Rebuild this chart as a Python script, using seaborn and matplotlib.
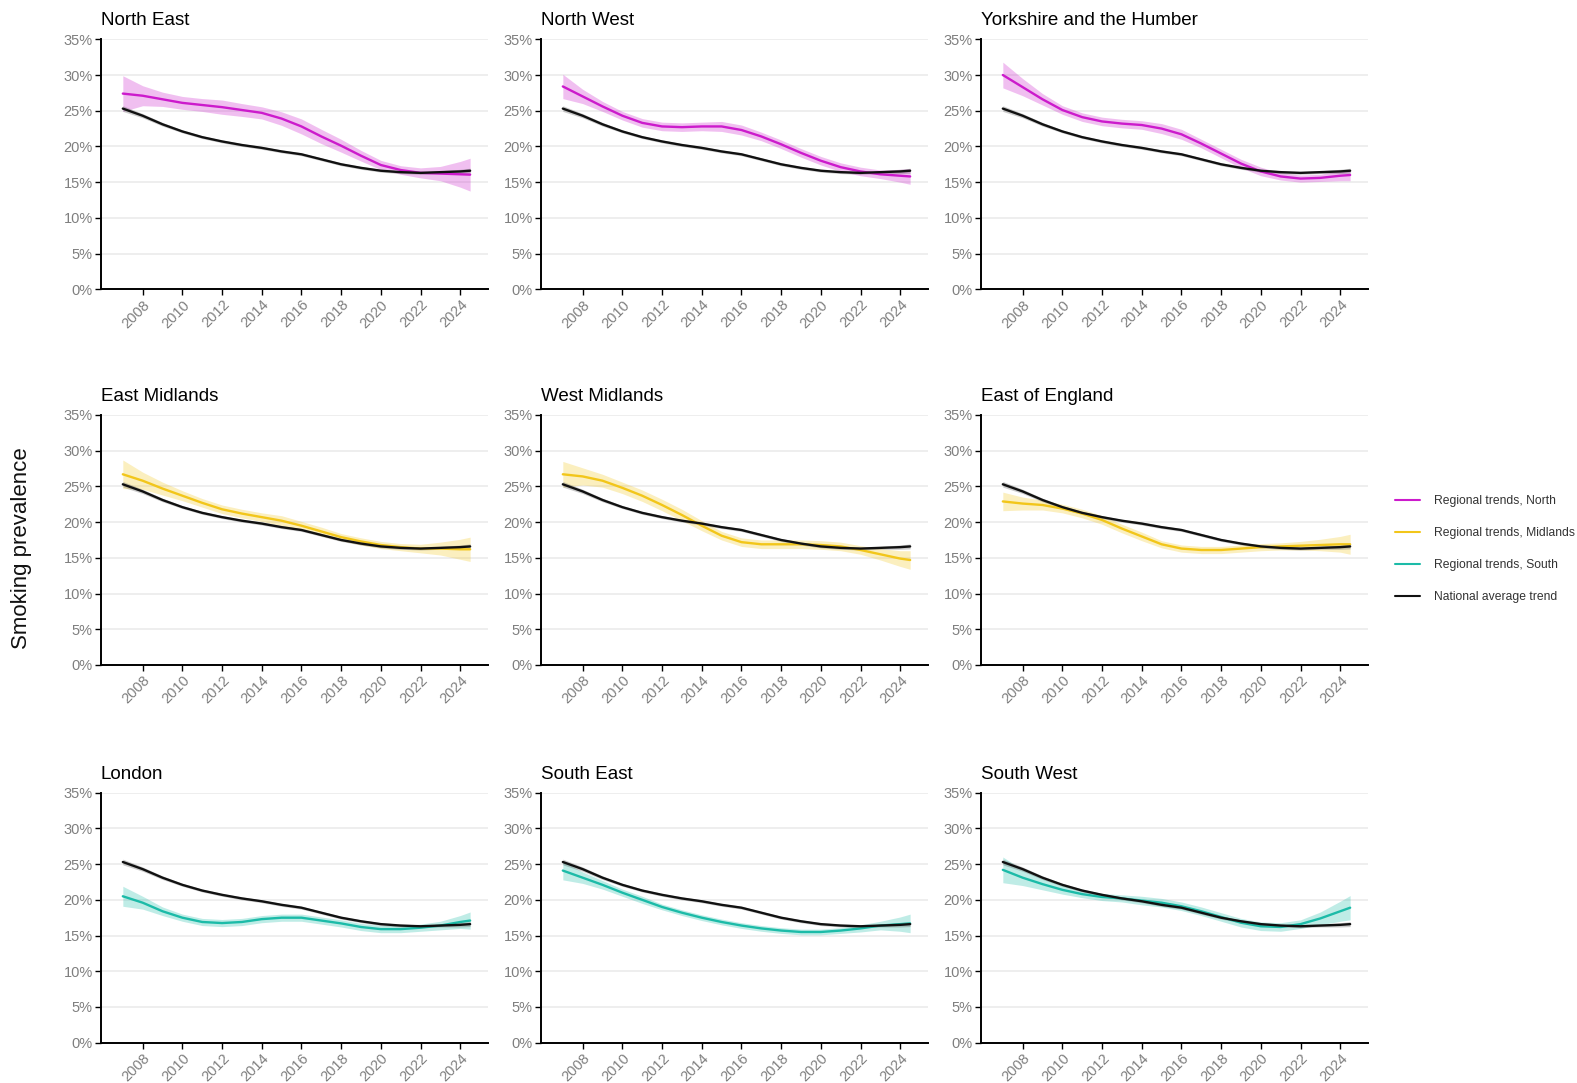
import numpy as np
import pandas as pd
import matplotlib
matplotlib.use('Agg')
import matplotlib.pyplot as plt
from matplotlib.lines import Line2D
from matplotlib.ticker import FuncFormatter
import seaborn as sns

# data (percent smoking prevalence, smoothed trends)
years = [2007, 2008, 2009, 2010, 2011, 2012, 2013, 2014, 2015, 2016,
         2017, 2018, 2019, 2020, 2021, 2022, 2023, 2024, 2024.5]

national = [25.3, 24.3, 23.1, 22.1, 21.3, 20.7, 20.2, 19.8, 19.3, 18.9,
            18.2, 17.5, 17.0, 16.6, 16.4, 16.3, 16.4, 16.5, 16.6]
national_band = [0.4, 0.3, 0.25, 0.2, 0.2, 0.2, 0.2, 0.2, 0.2, 0.2,
                 0.2, 0.2, 0.2, 0.2, 0.2, 0.2, 0.2, 0.3, 0.35]

regions = ['North East', 'North West', 'Yorkshire and the Humber',
           'East Midlands', 'West Midlands', 'East of England',
           'London', 'South East', 'South West']
region_group = ['North', 'North', 'North',
                'Midlands', 'Midlands', 'Midlands',
                'South', 'South', 'South']

north_east = [27.4, 27.1, 26.6, 26.1, 25.8, 25.5, 25.1, 24.7, 23.9, 22.8,
              21.4, 20.1, 18.7, 17.4, 16.7, 16.3, 16.2, 16.1, 16.05]
north_east_band = [2.5, 1.4, 1.0, 0.9, 0.9, 1.0, 0.9, 0.85, 0.95, 1.05,
                   1.0, 0.9, 0.75, 0.65, 0.6, 0.7, 1.0, 1.8, 2.3]

north_west = [28.4, 27.0, 25.6, 24.3, 23.3, 22.8, 22.7, 22.8, 22.8, 22.3,
              21.4, 20.3, 19.1, 18.0, 17.1, 16.5, 16.1, 15.9, 15.8]
north_west_band = [1.7, 1.0, 0.7, 0.6, 0.6, 0.6, 0.6, 0.6, 0.7, 0.7,
                   0.6, 0.6, 0.6, 0.6, 0.6, 0.6, 0.6, 0.9, 1.1]

yorkshire = [30.0, 28.3, 26.6, 25.1, 24.1, 23.5, 23.2, 23.0, 22.5, 21.7,
             20.4, 19.0, 17.6, 16.5, 15.8, 15.5, 15.6, 15.9, 16.0]
yorkshire_band = [1.8, 1.2, 0.8, 0.6, 0.6, 0.6, 0.6, 0.6, 0.7, 0.7,
                  0.6, 0.6, 0.6, 0.6, 0.5, 0.5, 0.5, 0.7, 0.8]

east_midlands = [26.7, 25.8, 24.7, 23.7, 22.7, 21.8, 21.2, 20.7, 20.2, 19.5,
                 18.7, 17.9, 17.3, 16.8, 16.5, 16.3, 16.3, 16.2, 16.2]
east_midlands_band = [2.0, 1.2, 0.9, 0.7, 0.6, 0.6, 0.6, 0.6, 0.7, 0.6,
                      0.6, 0.5, 0.5, 0.5, 0.5, 0.6, 0.9, 1.4, 1.7]

west_midlands = [26.7, 26.4, 25.8, 24.8, 23.7, 22.4, 21.0, 19.5, 18.1, 17.2,
                 16.9, 16.9, 16.9, 16.8, 16.6, 16.1, 15.5, 14.9, 14.7]
west_midlands_band = [1.8, 1.2, 0.9, 0.8, 0.8, 0.8, 0.8, 0.7, 0.6, 0.6,
                      0.6, 0.6, 0.6, 0.6, 0.6, 0.6, 0.8, 1.1, 1.3]

east_of_england = [22.9, 22.6, 22.4, 21.9, 21.2, 20.3, 19.1, 18.0, 16.9, 16.3,
                   16.1, 16.1, 16.3, 16.5, 16.6, 16.7, 16.8, 16.9, 16.9]
east_of_england_band = [1.3, 0.9, 0.7, 0.6, 0.6, 0.6, 0.6, 0.6, 0.5, 0.5,
                        0.5, 0.5, 0.5, 0.5, 0.5, 0.6, 0.8, 1.1, 1.4]

london = [20.5, 19.6, 18.4, 17.5, 16.9, 16.75, 16.9, 17.3, 17.5, 17.5,
          17.1, 16.7, 16.2, 15.9, 15.9, 16.1, 16.4, 16.9, 17.1]
london_band = [1.4, 0.9, 0.6, 0.5, 0.5, 0.5, 0.5, 0.5, 0.5, 0.5,
               0.5, 0.5, 0.5, 0.5, 0.5, 0.5, 0.6, 0.9, 1.2]

south_east = [24.1, 23.1, 22.1, 21.0, 20.0, 19.0, 18.2, 17.5, 16.9, 16.4,
              16.0, 15.7, 15.5, 15.5, 15.7, 16.0, 16.4, 16.6, 16.7]
south_east_band = [1.3, 0.8, 0.6, 0.5, 0.5, 0.4, 0.4, 0.4, 0.4, 0.4,
                   0.4, 0.4, 0.4, 0.4, 0.4, 0.5, 0.6, 1.0, 1.3]

south_west = [24.2, 23.1, 22.2, 21.4, 20.8, 20.4, 20.2, 19.9, 19.6, 19.1,
              18.4, 17.6, 16.8, 16.3, 16.2, 16.6, 17.4, 18.4, 18.9]
south_west_band = [1.8, 1.1, 0.8, 0.6, 0.5, 0.5, 0.5, 0.6, 0.6, 0.6,
                   0.6, 0.6, 0.6, 0.6, 0.6, 0.6, 0.9, 1.4, 1.7]

region_values = [north_east, north_west, yorkshire,
                 east_midlands, west_midlands, east_of_england,
                 london, south_east, south_west]
region_bands = [north_east_band, north_west_band, yorkshire_band,
                east_midlands_band, west_midlands_band, east_of_england_band,
                london_band, south_east_band, south_west_band]

group_colors = {'North': '#CC1BCC', 'Midlands': '#F2C61A', 'South': '#1CBBA8'}
national_color = '#111111'

#%%
sns.set_theme(style='white')
plt.rcParams['font.family'] = ['Liberation Sans', 'DejaVu Sans']

fig = plt.figure(figsize=(15.77, 10.83), dpi=100)
W, H = 1577, 1083
lefts = [101, 541, 981]
tops = [39.3, 415, 792.7]
aw, ah = 387, 250

pct = FuncFormatter(lambda v, p: f'{v:.0f}%')

for i, name in enumerate(regions):
    r, c = divmod(i, 3)
    ax = fig.add_axes([lefts[c] / W, 1 - (tops[r] + ah) / H, aw / W, ah / H])
    df = pd.DataFrame({'year': years, 'value': region_values[i],
                       'band': region_bands[i]})
    nat = pd.DataFrame({'year': years, 'value': national, 'band': national_band})
    col = group_colors[region_group[i]]

    ax.fill_between(df['year'], df['value'] - df['band'], df['value'] + df['band'],
                    color=col, alpha=0.28, linewidth=0)
    ax.fill_between(nat['year'], nat['value'] - nat['band'], nat['value'] + nat['band'],
                    color='#555555', alpha=0.3, linewidth=0)
    sns.lineplot(data=df, x='year', y='value', color=col, linewidth=1.7,
                 ax=ax, legend=False)
    sns.lineplot(data=nat, x='year', y='value', color=national_color,
                 linewidth=1.7, ax=ax, legend=False)

    ax.set_xlim(2005.9, 2025.4)
    ax.set_ylim(0, 35)
    ax.set_yticks(np.arange(0, 36, 5))
    ax.set_xticks(np.arange(2008, 2025, 2))
    ax.yaxis.set_major_formatter(pct)
    ax.grid(axis='y', color='#EBEBEB', linewidth=1.2)
    ax.grid(axis='x', visible=False)
    ax.set_axisbelow(True)
    for s in ['top', 'right']:
        ax.spines[s].set_visible(False)
    for s in ['left', 'bottom']:
        ax.spines[s].set_color('black')
        ax.spines[s].set_linewidth(1.4)
    ax.tick_params(axis='both', which='major', length=4, width=1.0,
                   color='black', labelsize=10.5, labelcolor='#7F7F7F',
                   bottom=True, left=True, pad=2)
    for lab in ax.get_xticklabels():
        lab.set_rotation(45)
        lab.set_ha('right')
        lab.set_va('top')
        lab.set_rotation_mode('anchor')
    ax.set_xlabel('')
    ax.set_ylabel('')
    ax.set_title(name, loc='left', fontsize=13.5, pad=10, color='black')

fig.text(22 / W, 1 - 548 / H, 'Smoking prevalence', rotation=90,
         ha='center', va='center', fontsize=16, color='#111111')

handles = [Line2D([], [], color=group_colors['North'], linewidth=1.5),
           Line2D([], [], color=group_colors['Midlands'], linewidth=1.5),
           Line2D([], [], color=group_colors['South'], linewidth=1.5),
           Line2D([], [], color=national_color, linewidth=1.5)]
labels = ['Regional trends, North', 'Regional trends, Midlands',
          'Regional trends, South', 'National average trend']
fig.legend(handles, labels, loc='center left',
           bbox_to_anchor=(1390 / W, 1 - 549 / H), frameon=False,
           fontsize=8.7, labelcolor='#333333', labelspacing=1.65,
           handlelength=2.1, handletextpad=1.1, borderaxespad=0)

fig.savefig('out.png', dpi=100)
